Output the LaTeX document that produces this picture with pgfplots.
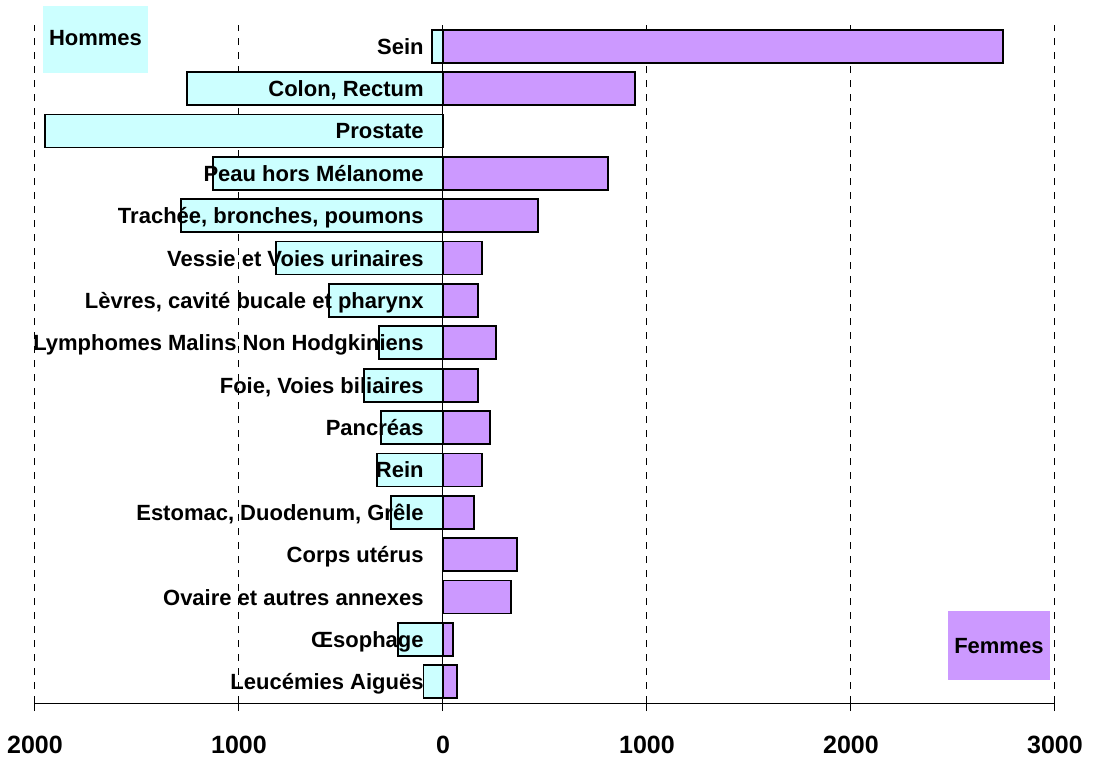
\documentclass[border=0pt]{standalone}
\usepackage{pgfplots}
\pgfplotsset{compat=1.18}
\usepackage{fontspec}
\setmainfont{Liberation Sans}
\definecolor{hom}{HTML}{CCFFFF}
\definecolor{fem}{HTML}{CC99FF}
\newcommand{\lab}{\fontsize{11}{13}\selectfont\bfseries}
\newcommand{\tlab}{\fontsize{12.5}{14}\selectfont\bfseries}
\tikzset{lbl/.style={anchor=base east, inner sep=0pt, yshift=-4pt, font=\lab}}
\begin{document}
\begin{tikzpicture}
\begin{axis}[
  at={(0,0)}, anchor=south west,
  scale only axis, width=510pt, height=339pt,
  xmin=-2000, xmax=3000, ymin=-0.5, ymax=15.5,
  axis x line=bottom, axis y line=none,
  x axis line style={-, line width=0.5pt},
  xtick={-2000,-1000,0,1000,2000,3000},
  xticklabels={2000,1000,0,1000,2000,3000},
  xmajorgrids,
  grid style={black, line width=0.5pt, dash pattern=on 3.5pt off 3.5pt},
  tick align=outside, major tick length=4pt,
  tick style={black, line width=0.5pt},
  xticklabel style={font=\tlab, yshift=-9pt},
  ytick=\empty,
  clip=false,
]
\addplot[xbar, bar width=16.5pt, bar shift=0pt, fill=hom, draw=black, line width=0.9pt] coordinates {
(-96,0) (-219,1) (-255,4) (-324,5) (-304,6) (-387,7) (-314,8) (-559,9) (-819,10) (-1284,11) (-1127,12) (-1951,13) (-1255,14) (-54,15)
};
\addplot[xbar, bar width=16.5pt, bar shift=0pt, fill=fem, draw=black, line width=0.9pt] coordinates {
(69,0) (49,1) (333,2) (363,3) (152,4) (191,5) (230,6) (172,7) (260,8) (172,9) (191,10) (466,11) (809,12) (941,14) (2745,15)
};
\draw[black, line width=0.5pt] (axis cs:0,-0.5) -- (axis cs:0,15.5);
\node[lbl] at (axis cs:-93,0) {Leucémies Aiguës};
\node[lbl] at (axis cs:-93,1) {Œsophage};
\node[lbl] at (axis cs:-93,2) {Ovaire et autres annexes};
\node[lbl] at (axis cs:-93,3) {Corps utérus};
\node[lbl] at (axis cs:-93,4) {Estomac, Duodenum, Grêle};
\node[lbl] at (axis cs:-93,5) {Rein};
\node[lbl] at (axis cs:-93,6) {Pancréas};
\node[lbl] at (axis cs:-93,7) {Foie, Voies biliaires};
\node[lbl] at (axis cs:-93,8) {Lymphomes Malins Non Hodgkiniens};
\node[lbl] at (axis cs:-93,9) {Lèvres, cavité bucale et pharynx};
\node[lbl] at (axis cs:-93,10) {Vessie et Voies urinaires};
\node[lbl] at (axis cs:-93,11) {Trachée, bronches, poumons};
\node[lbl] at (axis cs:-93,12) {Peau hors Mélanome};
\node[lbl] at (axis cs:-93,13) {Prostate};
\node[lbl] at (axis cs:-93,14) {Colon, Rectum};
\node[lbl] at (axis cs:-93,15) {Sein};
\fill[hom] (axis cs:-1961,15.95) rectangle (axis cs:-1446,14.37);
\node[font=\lab] at (axis cs:-1703.5,15.2) {Hommes};
\fill[fem] (axis cs:2475,1.66) rectangle (axis cs:2975,0.05);
\node[font=\lab] at (axis cs:2725,0.855) {Femmes};
\end{axis}
\pgfresetboundingbox
\path[use as bounding box] (-17.5pt,-27pt) rectangle (529pt,351.5pt);
\end{tikzpicture}
\end{document}
